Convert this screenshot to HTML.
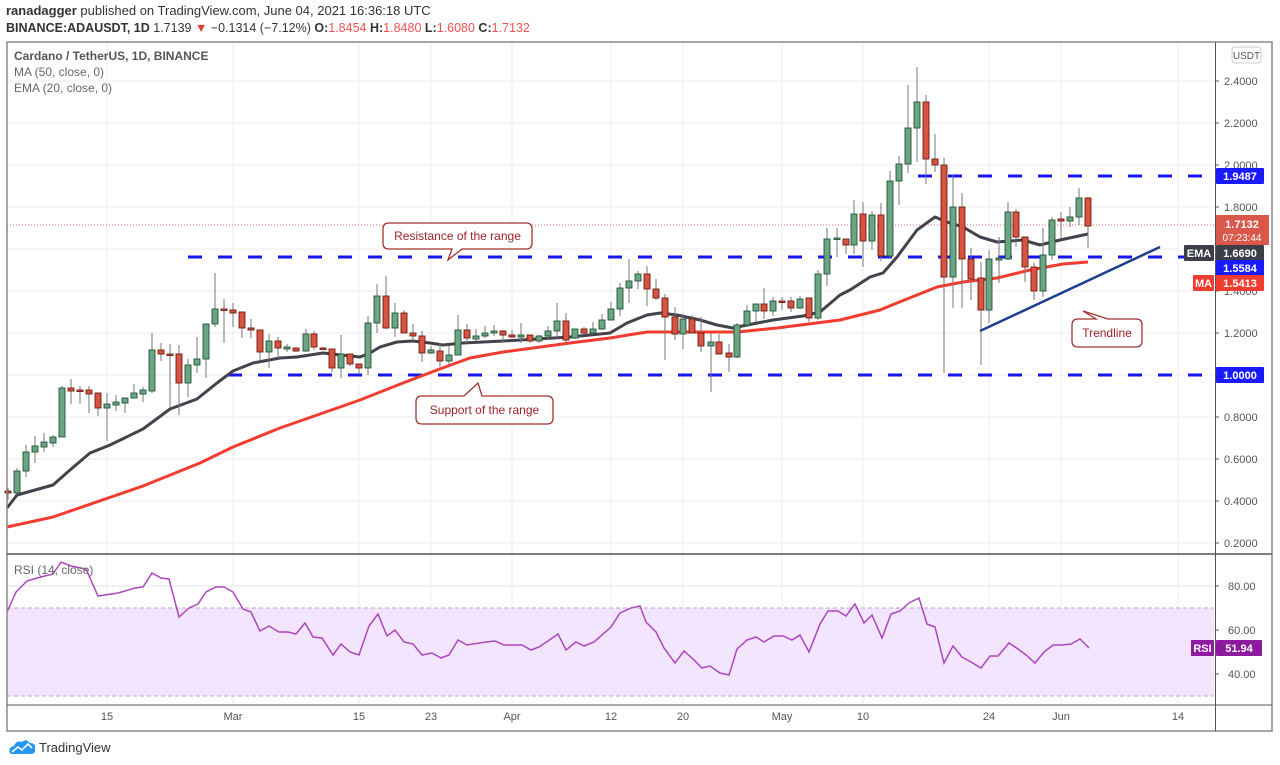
<!DOCTYPE html>
<html><head><meta charset="utf-8"><style>
html,body{margin:0;padding:0;background:#fff;}
svg{display:block;font-family:"Liberation Sans",sans-serif;}
</style></head><body>
<svg id="s" width="1280" height="765" viewBox="0 0 1280 765" xmlns="http://www.w3.org/2000/svg">
<rect width="1280" height="765" fill="#fff"/>
<text x="6" y="15" font-size="13" fill="#333"><tspan font-weight="bold">ranadagger</tspan> published on TradingView.com, June 04, 2021 16:36:18 UTC</text>
<text x="6" y="32" font-size="12.5" fill="#333"><tspan font-weight="bold">BINANCE:ADAUSDT, 1D</tspan>  1.7139 <tspan fill="#e53935">▼</tspan> −0.1314 (−7.12%) <tspan font-weight="bold">O:</tspan><tspan fill="#ef5350">1.8454</tspan> <tspan font-weight="bold">H:</tspan><tspan fill="#ef5350">1.8480</tspan> <tspan font-weight="bold">L:</tspan><tspan fill="#ef5350">1.6080</tspan> <tspan font-weight="bold">C:</tspan><tspan fill="#ef5350">1.7132</tspan></text>
<g id="grid"></g>
<rect x="7" y="608" width="1207" height="88" fill="#f3e5fd"/>
<line x1="7" y1="608" x2="1214" y2="608" stroke="#b9a6c7" stroke-dasharray="4,3"/>
<line x1="7" y1="696" x2="1214" y2="696" stroke="#b9a6c7" stroke-dasharray="4,3"/>
<g id="plot"></g>
<rect x="7" y="42" width="1265" height="689" fill="none" stroke="#888" stroke-width="1.5"/>
<line x1="7" y1="554" x2="1272" y2="554" stroke="#555" stroke-width="1.5"/>
<line x1="7" y1="705" x2="1272" y2="705" stroke="#555" stroke-width="1"/>
<line x1="1215.5" y1="42" x2="1215.5" y2="731" stroke="#555" stroke-width="1"/>
<text x="14" y="60" font-size="12" fill="#555" font-weight="bold">Cardano / TetherUS, 1D, BINANCE</text>
<text x="14" y="76" font-size="12" fill="#666">MA (50, close, 0)</text>
<text x="14" y="92" font-size="12" fill="#666">EMA (20, close, 0)</text>
<text x="14" y="574" font-size="12" fill="#666">RSI (14, close)</text>
<rect x="1232" y="47" width="29" height="16" rx="3" fill="#fff" stroke="#ccc"/>
<text x="1246.5" y="59" font-size="10" fill="#555" text-anchor="middle">USDT</text>
<g id="labels" font-size="11" fill="#555"></g>
<g font-size="12" fill="#9b2226">
<path d="M389,223 H526 Q532,223 532,229 V243 Q532,249 526,249 H462 L448,260 L452,249 H389 Q383,249 383,243 V229 Q383,223 389,223 Z" fill="#fff" stroke="#a0322d" stroke-width="1.3"/>
<text x="457.5" y="240" text-anchor="middle">Resistance of the range</text>
<path d="M422,396 H464 L478,383 L482,396 H547 Q553,396 553,402 V418 Q553,424 547,424 H422 Q416,424 416,418 V402 Q416,396 422,396 Z" fill="#fff" stroke="#a0322d" stroke-width="1.3"/>
<text x="484.5" y="414" text-anchor="middle">Support of the range</text>
<path d="M1078,319 H1096 L1083,311 L1108,319 H1136 Q1142,319 1142,325 V341 Q1142,347 1136,347 H1078 Q1072,347 1072,341 V325 Q1072,319 1078,319 Z" fill="#fff" stroke="#a0322d" stroke-width="1.3"/>
<text x="1107" y="337" text-anchor="middle">Trendline</text>
</g>
<g transform="translate(8,739)">
<path d="M2,14 Q0,8 6,7 Q8,1 14,3 Q18,-1 22,4 Q28,4 27,10 Q28,15 22,15 H6 Q2,15 2,14 Z" fill="#2196f3"/>
<path d="M4,13 L10,8 L14,11 L20,5 L24,9" stroke="#fff" stroke-width="1.6" fill="none"/>
<text x="31" y="13" font-size="13" fill="#333">TradingView</text>
</g>
</svg>
<script>
const NS="http://www.w3.org/2000/svg";
function el(p,t,a,txt){const e=document.createElementNS(NS,t);for(const k in a)e.setAttribute(k,a[k]);if(txt!==undefined)e.textContent=txt;p.appendChild(e);return e;}
const grid=document.getElementById('grid'),plot=document.getElementById('plot'),lab=document.getElementById('labels');
for(let p=0.2;p<=2.41;p+=0.2){const y=81+(2.4-p)*210;el(grid,'line',{x1:7,x2:1215,y1:y,y2:y,stroke:'#ececec'});}
[586,630,674].forEach(y=>el(grid,'line',{x1:7,x2:1215,y1:y,y2:y,stroke:'#e6e1ea'}));
const vx=[107,233,359,431,512,611,683,782,863,989,1061,1178];
vx.forEach(x=>el(grid,'line',{x1:x,x2:x,y1:42,y2:705,stroke:'#ececec'}));
const vl=['15','Mar','15','23','Apr','12','20','May','10','24','Jun','14'];
vx.forEach((x,i)=>el(lab,'text',{x:x,y:720,'text-anchor':'middle'},vl[i]));
[[2.4],[2.2],[2.0],[1.8],[1.4],[1.2],[0.8],[0.6],[0.4],[0.2]].forEach(([p])=>{const y=81+(2.4-p)*210;el(lab,'line',{x1:1215,x2:1219,y1:y,y2:y,stroke:'#555'});el(lab,'text',{x:1224,y:y+4},p.toFixed(4));});
[[80,586],[60,630],[40,674]].forEach(([v,y])=>{el(lab,'line',{x1:1215,x2:1219,y1:y,y2:y,stroke:'#555'});el(lab,'text',{x:1228,y:y+4},v.toFixed(2));});
function dash(x1,x2,y){el(plot,'line',{x1:x1,x2:x2,y1:y,y2:y,stroke:'#1515f5','stroke-width':3,'stroke-dasharray':'14,16'});}
dash(188,1214,257);dash(228,1214,375);dash(918,1214,176);
el(plot,'line',{x1:7,x2:1214,y1:225,y2:225,stroke:'#e57373','stroke-dasharray':'1,2'});
const ema=[[7,508],[17,495],[53,485],[70,470],[90,453],[110,445],[143,429],[170,409],[197,399],[217,383],[233,371],[253,363],[280,358],[297,357],[323,353],[350,356],[360,357],[370,353],[380,347],[397,342],[413,341],[430,343],[443,345],[463,343],[503,341],[570,337],[610,333],[627,323],[647,315],[660,313],[677,315],[700,320],[717,325],[733,328],[747,325],[773,320],[803,316],[820,312],[840,295],[850,290],[870,277],[883,273],[897,257],[917,230],[935,217],[947,222],[963,227],[980,237],[997,242],[1023,240],[1040,245],[1060,240],[1088,234]];
const ma=[[7,527],[53,517],[143,486],[200,463],[233,447],[280,428],[360,400],[403,383],[437,370],[470,358],[503,352],[570,343],[610,338],[647,332],[693,332],[737,332],[777,328],[840,320],[880,310],[897,303],[937,287],[963,282],[997,278],[1030,270],[1063,264],[1088,262]];
el(plot,'polyline',{points:ma.map(p=>p.join(',')).join(' '),fill:'none',stroke:'#f23c2f','stroke-width':3,'stroke-linejoin':'round'});
el(plot,'polyline',{points:ema.map(p=>p.join(',')).join(' '),fill:'none',stroke:'#43434d','stroke-width':3,'stroke-linejoin':'round'});
const C=[[8,491,493,488,500,'r'],[17,471,493,468,495,'g'],[26,452,471,445,477,'g'],[35,446,452,436,463,'g'],[44,442,447,433,452,'g'],[53,437,443,435,447,'g'],[62,388,437,386,437,'g'],[71,388,391,379,404,'r'],[80,390,391,386,404,'r'],[89,390,394,386,413,'r'],[98,393,408,393,416,'r'],[107,404,408,393,441,'g'],[116,402,405,395,411,'g'],[125,398,403,398,413,'g'],[134,393,398,384,398,'g'],[143,390,394,387,402,'g'],[152,350,391,333,393,'g'],[161,350,354,343,361,'r'],[170,354,355,344,408,'r'],[179,354,383,345,415,'r'],[188,365,383,359,397,'g'],[197,359,365,337,373,'g'],[206,324,359,324,378,'g'],[215,309,324,273,327,'g'],[224,309,310,299,343,'r'],[233,310,313,303,327,'r'],[242,312,328,312,338,'r'],[251,328,330,319,338,'r'],[260,330,352,330,360,'r'],[269,341,352,334,368,'g'],[278,341,348,337,358,'r'],[287,347,349,344,352,'g'],[296,348,351,348,352,'r'],[306,334,351,329,352,'g'],[314,334,347,331,350,'r'],[323,348,349,347,350,'r'],[332,349,368,349,372,'r'],[341,354,368,335,378,'g'],[350,354,364,354,366,'r'],[359,364,368,364,374,'r'],[368,323,368,316,375,'g'],[377,296,323,284,333,'g'],[386,296,328,276,329,'r'],[395,313,328,303,337,'g'],[404,313,333,310,333,'r'],[413,333,336,324,341,'r'],[422,336,353,331,362,'r'],[431,350,353,346,354,'g'],[440,351,361,343,367,'r'],[449,355,361,346,365,'g'],[458,330,355,315,355,'g'],[467,330,338,324,343,'r'],[476,336,339,329,341,'g'],[485,333,336,326,338,'g'],[494,331,333,325,336,'g'],[503,331,335,330,343,'r'],[512,335,337,330,338,'r'],[521,335,337,323,343,'g'],[530,335,341,335,343,'r'],[539,336,341,335,343,'g'],[548,331,336,326,340,'g'],[557,321,331,303,338,'g'],[566,321,340,313,342,'r'],[575,329,338,329,339,'g'],[584,329,333,327,334,'r'],[593,329,333,322,334,'g'],[602,320,329,314,330,'g'],[611,309,320,302,320,'g'],[620,288,309,283,316,'g'],[629,281,288,259,303,'g'],[638,274,281,271,289,'g'],[647,274,289,266,306,'r'],[656,289,298,279,300,'r'],[665,298,317,294,360,'r'],[675,317,334,307,340,'r'],[683,319,334,314,349,'g'],[692,319,333,315,333,'r'],[701,333,346,317,352,'r'],[711,342,346,333,392,'g'],[719,342,354,334,354,'r'],[729,353,357,344,372,'r'],[737,325,357,323,358,'g'],[747,311,325,305,327,'g'],[756,304,311,304,322,'g'],[764,304,311,288,319,'r'],[773,301,311,297,316,'g'],[782,301,302,297,310,'r'],[791,301,308,297,312,'r'],[800,299,308,296,309,'g'],[809,298,318,298,322,'r'],[818,274,318,270,320,'g'],[827,239,274,228,286,'g'],[837,238,239,228,257,'g'],[846,239,245,239,254,'r'],[854,214,245,200,254,'g'],[863,214,241,202,267,'r'],[872,215,241,211,250,'g'],[881,215,256,203,261,'r'],[890,181,256,171,258,'g'],[899,164,181,156,205,'g'],[908,128,164,85,173,'g'],[917,102,128,67,162,'g'],[926,102,159,95,184,'r'],[935,159,165,134,172,'r'],[944,165,277,158,373,'r'],[953,207,277,175,308,'g'],[962,207,259,193,308,'r'],[971,259,279,248,300,'r'],[981,278,310,262,365,'r'],[989,259,310,250,323,'g'],[999,258,260,237,283,'g'],[1008,212,259,202,260,'g'],[1016,212,237,209,247,'r'],[1025,237,267,237,282,'r'],[1034,267,291,263,300,'r'],[1043,255,291,228,297,'g'],[1052,220,255,217,260,'g'],[1061,219,221,212,238,'r'],[1070,217,221,207,227,'g'],[1079,198,217,188,225,'g'],[1088,198,226,197,248,'r']];
C.forEach(([x,t,b,wt,wb,c])=>{
 el(plot,'line',{x1:x,x2:x,y1:wt,y2:wb,stroke:'#777','stroke-width':1});
 const g=c==='g';
 el(plot,'rect',{x:x-3,y:t,width:6,height:Math.max(b-t,1.5),fill:g?'#6ba583':'#d75442',stroke:g?'#225437':'#6f1b12','stroke-width':0.9});
});
el(plot,'line',{x1:980,y1:331,x2:1160,y2:247,stroke:'#1e3f8f','stroke-width':2.5});
const rsi=[[7,612],[16,592],[27,581],[37,578],[53,574],[61,562],[71,566],[86,569],[98,596],[118,593],[135,588],[143,587],[152,573],[161,578],[169,579],[179,617],[189,608],[198,604],[206,592],[216,587],[224,587],[233,592],[243,609],[251,612],[260,631],[269,626],[279,632],[288,632],[296,634],[305,623],[313,637],[322,638],[333,655],[341,644],[350,652],[359,655],[369,626],[378,614],[387,636],[395,630],[404,642],[413,644],[422,655],[432,653],[441,658],[449,655],[458,640],[467,645],[486,642],[495,641],[504,645],[522,645],[531,650],[539,647],[548,641],[558,634],[566,650],[576,642],[584,646],[594,642],[611,627],[620,613],[631,608],[640,606],[646,622],[656,632],[664,648],[675,663],[684,651],[693,659],[702,668],[710,666],[720,673],[729,675],[737,649],[747,640],[756,637],[764,642],[774,636],[783,636],[792,640],[800,635],[809,652],[820,624],[828,611],[838,611],[846,616],[855,604],[864,623],[872,615],[882,638],[891,614],[900,611],[909,603],[919,598],[927,624],[935,627],[944,663],[953,646],[962,657],[971,662],[981,668],[990,656],[998,656],[1009,643],[1018,649],[1026,655],[1035,663],[1044,652],[1053,645],[1062,645],[1071,644],[1080,639],[1089,648]];
el(plot,'polyline',{points:rsi.map(p=>p.join(',')).join(' '),fill:'none',stroke:'#ab47bc','stroke-width':1.5});
function box(x,y,w,h,fill,txt,tc){el(lab,'rect',{x:x,y:y,width:w,height:h,fill:fill,rx:1});el(lab,'text',{x:x+w/2,y:y+h/2+4,'text-anchor':'middle',fill:tc||'#fff','font-weight':'bold'},txt);}
box(1216,168,48,16,'#1a1aff','1.9487');
box(1216,367,48,16,'#1a1aff','1.0000');
el(lab,'rect',{x:1216,y:215,width:53,height:30,fill:'#d9584a'});
el(lab,'text',{x:1242,y:228,'text-anchor':'middle',fill:'#fff','font-weight':'bold'},'1.7132');
el(lab,'text',{x:1242,y:241,'text-anchor':'middle',fill:'#fff','font-size':10},'07:23:44');
box(1184,245,30,16,'#3d3f48','EMA');
box(1216,245,48,16,'#3d3f48','1.6690');
box(1216,260,48,16,'#1a1aff','1.5584');
box(1193,275,21,16,'#f23c2f','MA');
box(1216,275,48,16,'#f23c2f','1.5413');
box(1191,640,23,16,'#8e1aa0','RSI');
box(1216,640,46,16,'#8e1aa0','51.94');
</script>
</body></html>
